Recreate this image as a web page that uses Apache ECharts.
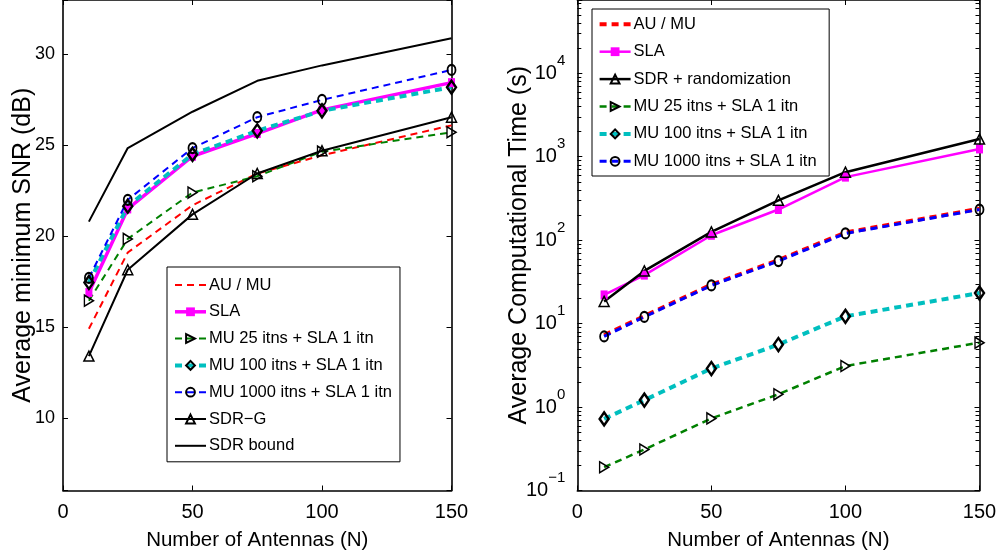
<!DOCTYPE html>
<html>
<head>
<meta charset="utf-8">
<style>
html,body{margin:0;padding:0;background:#fff;}
#chart{width:1006px;height:556px;}
</style>
<script src="https://cdn.jsdelivr.net/npm/echarts@6/dist/echarts.min.js"></script>
</head>
<body>
<div id="chart"></div>
<script>
// ---------- data ----------
const antennas = [10, 25, 50, 75, 100, 150];

// Left: average minimum SNR (dB)
const snrAuMu    = [14.9, 19.1, 21.7, 23.45, 24.45, 26.1];
const snrSla     = [16.9, 21.5, 24.4, 25.65, 26.95, 28.45];
const snrMu25    = [16.45, 19.85, 22.4, 23.3, 24.65, 25.72];
const snrMu100   = [17.45, 21.65, 24.5, 25.8, 26.9, 28.2];
const snrMu1000  = [17.7, 22.0, 24.85, 26.55, 27.5, 29.15];
const snrSdrG    = [13.4, 18.15, 21.2, 23.45, 24.7, 26.55];
const snrSdrBound= [20.8, 24.85, 26.85, 28.55, 29.4, 30.9];

// Right: average computational time (s)
const timeAuMu    = [7.25, 12.3, 29.2, 57.5, 123, 237];
const timeSla     = [22, 38, 114, 232, 567, 1233];
const timeSdrRand = [18.4, 42.7, 125, 299, 650, 1620];
const timeMu25    = [0.19, 0.31, 0.73, 1.42, 3.1, 5.9];
const timeMu100   = [0.72, 1.21, 2.89, 5.6, 12.2, 23.2];
const timeMu1000  = [7.0, 12.0, 28.6, 56, 120, 232];

const xTicks = [0, 50, 100, 150];
const snrTicks = [10, 15, 20, 25, 30];
// minor tick positions of the log axis (mantissas within each decade)
const logMinorMantissas = [2, 3, 4, 5, 6, 7, 8, 9];
const logDecades = [0.1, 1, 10, 100, 1000, 10000];

// ---------- styling ----------
const SANS = "'Liberation Sans',Arial,Helvetica,sans-serif";
const DASH = [7, 5];
const RED = '#ff0000', MAG = '#ff00ff', GRN = '#008000', CYA = '#00bfbf', BLU = '#0000ff', BLK = '#000000';
const LOG_MAX = 75000;

function pts(ys) { return antennas.map((x, i) => [x, ys[i]]); }

function mk(name, ys, xi, yi, o) {
  return {
    name: name, type: 'line', xAxisIndex: xi, yAxisIndex: yi,
    data: pts(ys),
    symbol: o.symbol || 'none',
    symbolSize: o.size || 10,
    symbolRotate: o.rotate || 0,
    showSymbol: !!o.symbol,
    lineStyle: { color: o.color, width: o.width, type: o.dash ? DASH : 'solid', cap: 'butt' },
    itemStyle: o.symbol ? {
      color: o.fill || 'rgba(0,0,0,0)', borderColor: o.border || o.color, borderWidth: o.bw == null ? 1.5 : o.bw
    } : { color: 'rgba(0,0,0,0)', borderWidth: 0 },
    emphasis: { disabled: true },
    z: 2
  };
}

function xAxisCfg(grid, showLabel) {
  return {
    gridIndex: grid, type: 'value', min: 0, max: 150, interval: 50,
    position: showLabel ? 'bottom' : 'top',
    axisLine: { show: true, onZero: false, lineStyle: { color: BLK, width: 1.6 } },
    axisTick: { show: true, inside: true, length: 5, lineStyle: { color: BLK, width: 1 } },
    axisLabel: showLabel ? { show: true, fontFamily: SANS, fontSize: 20, color: BLK, margin: 12,
      formatter: v => xTicks.indexOf(v) >= 0 ? String(v) : '' } : { show: false },
    splitLine: { show: false },
    name: showLabel ? 'Number of Antennas (N)' : '',
    nameLocation: 'middle', nameGap: 39.5, nameMoveOverlap: false,
    nameTextStyle: { fontFamily: SANS, fontSize: 20.5, color: BLK }
  };
}

function snrAxis(showLabel) {
  return {
    gridIndex: 0, type: 'value', min: 6, max: 33,
    position: showLabel ? 'left' : 'right',
    axisLine: { show: true, onZero: false, lineStyle: { color: BLK, width: 1.6 } },
    axisTick: { show: true, inside: true, length: 5, lineStyle: { color: BLK, width: 1 } },
    axisLabel: showLabel ? { show: true, fontFamily: SANS, fontSize: 18, color: BLK, margin: 8,
      formatter: v => snrTicks.indexOf(v) >= 0 ? String(v) : '' } : { show: false },
    splitLine: { show: false },
    name: showLabel ? 'Average minimum SNR (dB)' : '',
    nameLocation: 'middle', nameGap: 27, nameMoveOverlap: false,
    nameTextStyle: { fontFamily: SANS, fontSize: 25, color: BLK }
  };
}

function timeAxis(showLabel) {
  return {
    gridIndex: 1, type: 'log', logBase: 10, min: 0.1, max: LOG_MAX,
    position: showLabel ? 'left' : 'right',
    axisLine: { show: true, onZero: false, lineStyle: { color: BLK, width: 1.6 } },
    axisTick: { show: true, inside: true, length: 5, lineStyle: { color: BLK, width: 1 } },
    axisLabel: showLabel ? {
      show: true, color: BLK, margin: 12,
      formatter: function (v) {
        const l = Math.log10(v), e = Math.round(l);
        if (Math.abs(l - e) > 1e-6) return '';
        return '{b|10}{s|' + (e < 0 ? '\u2212' + (-e) : e) + '}';
      },
      rich: {
        b: { fontFamily: SANS, fontSize: 20, lineHeight: 20, color: BLK },
        s: { fontFamily: SANS, fontSize: 15, lineHeight: 15, color: BLK, padding: [0, 0, 25, 0] }
      }
    } : { show: false },
    splitLine: { show: false },
    name: showLabel ? 'Average Computational Time (s)' : '',
    nameLocation: 'middle', nameGap: 45.5, nameMoveOverlap: false,
    nameTextStyle: { fontFamily: SANS, fontSize: 25, color: BLK }
  };
}

const legendCommon = {
  orient: 'vertical', itemWidth: 31, itemHeight: 11,
  backgroundColor: '#fff', borderColor: BLK, borderWidth: 1, borderRadius: 0,
  textStyle: { fontFamily: SANS, fontSize: 16.5, lineHeight: 20, color: BLK, padding: [0, 0, 0, -2] },
  lineStyle: { width: 'inherit' },
  selectedMode: false
};

// minor tick values for the log axis
const minorTickData = [];
logDecades.forEach(d => logMinorMantissas.forEach(m => {
  const v = d * m;
  if (v < LOG_MAX) minorTickData.push([75, v]);
}));

const option = {
  backgroundColor: '#fff',
  animation: false,
  grid: [
    { left: 63, right: 554.5, top: -1, bottom: 64.5 },
    { left: 577.3, right: 26.5, top: -1, bottom: 64.5 }
  ],
  xAxis: [xAxisCfg(0, true), xAxisCfg(1, true), xAxisCfg(0, false), xAxisCfg(1, false)],
  yAxis: [snrAxis(true), timeAxis(true), snrAxis(false), timeAxis(false)],
  legend: [
    Object.assign({}, legendCommon, {
      left: 167, top: 267, padding: [8, 8, 6, 6], itemGap: 6.8,
      data: ['AU / MU', 'SLA', 'MU 25 itns + SLA 1 itn', 'MU 100 itns + SLA 1 itn',
             'MU 1000 itns + SLA 1 itn', 'SDR\u2212G', 'SDR bound']
    }),
    Object.assign({}, legendCommon, {
      left: 592, top: 9, padding: [5.3, 8, 4.7, 5.6], itemGap: 7.4,
      data: ['AU / MU ', 'SLA ', 'SDR + randomization', 'MU 25 itns + SLA 1 itn ',
             'MU 100 itns + SLA 1 itn ', 'MU 1000 itns + SLA 1 itn ']
    })
  ],
  series: [
    // left plot
    mk('AU / MU', snrAuMu, 0, 0, { color: RED, width: 2, dash: true }),
    mk('SLA', snrSla, 0, 0, { color: MAG, width: 3.5, symbol: 'rect', size: [7, 9], fill: MAG, border: MAG, bw: 0 }),
    mk('MU 25 itns + SLA 1 itn', snrMu25, 0, 0, { color: GRN, width: 2, dash: true, symbol: 'triangle', rotate: -90, size: [11, 9], border: BLK }),
    mk('MU 100 itns + SLA 1 itn', snrMu100, 0, 0, { color: CYA, width: 4, dash: true, symbol: 'diamond', size: [9, 13], border: BLK, bw: 2.5 }),
    mk('MU 1000 itns + SLA 1 itn', snrMu1000, 0, 0, { color: BLU, width: 2, dash: true, symbol: 'circle', size: [8, 10], border: BLK, bw: 2 }),
    mk('SDR\u2212G', snrSdrG, 0, 0, { color: BLK, width: 2, symbol: 'triangle', size: [10, 10], border: BLK, bw: 1.5 }),
    mk('SDR bound', snrSdrBound, 0, 0, { color: BLK, width: 2 }),
    // right plot
    mk('AU / MU ', timeAuMu, 1, 1, { color: RED, width: 4, dash: true }),
    mk('SLA ', timeSla, 1, 1, { color: MAG, width: 2.5, symbol: 'rect', size: [7, 9], fill: MAG, border: MAG, bw: 0 }),
    mk('SDR + randomization', timeSdrRand, 1, 1, { color: BLK, width: 2.5, symbol: 'triangle', size: [10, 10], border: BLK, bw: 1.5 }),
    mk('MU 25 itns + SLA 1 itn ', timeMu25, 1, 1, { color: GRN, width: 2.5, dash: true, symbol: 'triangle', rotate: -90, size: [11, 9], border: BLK }),
    mk('MU 100 itns + SLA 1 itn ', timeMu100, 1, 1, { color: CYA, width: 4, dash: true, symbol: 'diamond', size: [9, 13], border: BLK, bw: 2.5 }),
    mk('MU 1000 itns + SLA 1 itn ', timeMu1000, 1, 1, { color: BLU, width: 3, dash: true, symbol: 'circle', size: [8, 10], border: BLK, bw: 2 }),
    // log-axis minor ticks (inside, on both vertical edges of the right plot)
    {
      type: 'custom', coordinateSystem: 'cartesian2d', xAxisIndex: 1, yAxisIndex: 1,
      silent: true, z: 3, clip: false,
      encode: { x: 0, y: 1 },
      data: minorTickData,
      renderItem: function (params, api) {
        const v = api.value(1);
        const pl = api.coord([0, v]);
        const pr = api.coord([150, v]);
        const y = Math.round(pl[1]) + 0.5;
        return {
          type: 'group',
          children: [
            { type: 'line', shape: { x1: pl[0], y1: y, x2: pl[0] + 4, y2: y }, style: { stroke: BLK, lineWidth: 1 } },
            { type: 'line', shape: { x1: pr[0] - 4, y1: y, x2: pr[0], y2: y }, style: { stroke: BLK, lineWidth: 1 } }
          ]
        };
      }
    }
  ]
};

const chart = echarts.init(document.getElementById('chart'), null, { renderer: 'canvas' });
chart.setOption(option);
</script>
</body>
</html>
